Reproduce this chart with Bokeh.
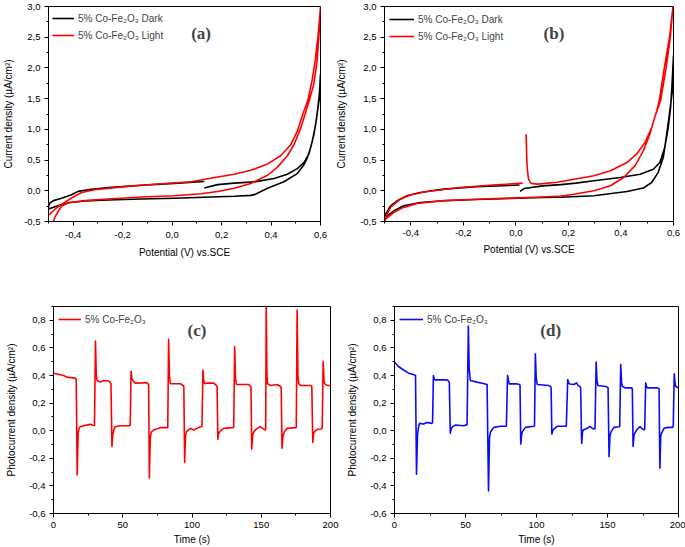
from bokeh.plotting import figure
from bokeh.layouts import column, row
from bokeh.models import FixedTicker, Label, Legend, LegendItem, Range1d
from bokeh.embed import file_html
from bokeh.resources import INLINE

# ---------------- data ----------------
# (a) CV curves
a_dark_v = [0.13, 0.184, 0.251, 0.332, 0.412, 0.466, 0.506, 0.533, 0.553, 0.567, 0.580, 0.589, 0.596, 0.600,
            0.595, 0.584, 0.573, 0.560, 0.547, 0.531, 0.506, 0.452, 0.386, 0.332, 0.318, 0.251, 0.158, 0.009,
            -0.125, -0.259, -0.353, -0.42, -0.46, -0.494, -0.5,
            -0.5, -0.494, -0.48, -0.447, -0.407, -0.38, -0.326, -0.259, -0.125, 0.009, 0.13]
a_dark_j = [0.045, 0.10, 0.125, 0.145, 0.20, 0.27, 0.36, 0.46, 0.60, 0.81, 1.07, 1.34, 1.6, 1.9,
            1.5, 1.18, 0.91, 0.70, 0.54, 0.41, 0.28, 0.147, 0.04, -0.063, -0.075, -0.09, -0.10, -0.122,
            -0.133, -0.149, -0.165, -0.196, -0.24, -0.29, -0.30,
            -0.25, -0.196, -0.16, -0.122, -0.064, -0.01, 0.025, 0.052, 0.089, 0.12, 0.15]
a_light_v = [-0.5, -0.474, -0.447, -0.407, -0.366, -0.313, -0.192, -0.057, 0.077, 0.117, 0.184, 0.251, 0.318,
             0.386, 0.439, 0.480, 0.506, 0.527, 0.550, 0.566, 0.578, 0.592, 0.600,
             0.595, 0.586, 0.572, 0.556, 0.540, 0.520, 0.493, 0.466, 0.426, 0.386, 0.318, 0.251, 0.184, 0.117,
             0.009, -0.125, -0.259, -0.366, -0.42, -0.447, -0.46, -0.474, -0.482]
a_light_j = [-0.40, -0.30, -0.22, -0.117, -0.027, 0.016, 0.068, 0.11, 0.147, 0.175, 0.225, 0.27, 0.333,
             0.437, 0.57, 0.754, 0.967, 1.23, 1.49, 1.8, 2.1, 2.6, 3.0,
             2.6, 2.1, 1.72, 1.49, 1.28, 1.02, 0.754, 0.57, 0.385, 0.253, 0.12, 0.041, -0.011, -0.048,
             -0.08, -0.10, -0.133, -0.165, -0.196, -0.25, -0.33, -0.43, -0.52]

# (b) CV curves
b_dark_v = [0.016, 0.032, 0.102, 0.171, 0.228, 0.297, 0.397, 0.473, 0.523, 0.548, 0.567, 0.580, 0.589, 0.594, 0.600,
            0.595, 0.586, 0.574, 0.561, 0.542, 0.517, 0.485, 0.423, 0.297, 0.171, 0.102, -0.024, -0.15, -0.275,
            -0.364, -0.427, -0.464, -0.49, -0.5,
            -0.496, -0.477, -0.452, -0.414, -0.364, -0.275, -0.15, 0.014]
b_dark_j = [-0.011, 0.038, 0.08, 0.10, 0.125, 0.163, 0.217, 0.27, 0.35, 0.46, 0.71, 1.03, 1.36, 1.7, 2.2,
            1.6, 1.30, 0.92, 0.54, 0.30, 0.135, 0.044, -0.011, -0.082, -0.105, -0.109, -0.125, -0.142, -0.163,
            -0.19, -0.245, -0.326, -0.408, -0.49,
            -0.38, -0.245, -0.163, -0.082, -0.027, 0.027, 0.065, 0.093]
b_light_v = [0.039, 0.041, 0.043, 0.048, 0.058, 0.083, 0.158, 0.297, 0.36, 0.423, 0.46, 0.492, 0.517, 0.536, 0.546,
             0.565, 0.585, 0.598,
             0.588, 0.572, 0.551, 0.529, 0.51, 0.485, 0.454, 0.41, 0.36, 0.297, 0.215, 0.171, 0.102, -0.024,
             -0.15, -0.275, -0.376, -0.427, -0.464, -0.496, -0.5,
             -0.497, -0.477, -0.44, -0.40, -0.338, -0.213, -0.087, 0.026]
b_light_j = [0.92, 0.6, 0.38, 0.19, 0.12, 0.109, 0.14, 0.245, 0.326, 0.46, 0.60, 0.79, 1.03, 1.30, 1.47,
             2.0, 2.5, 3.0,
             2.5, 2.0, 1.47, 1.20, 0.92, 0.65, 0.41, 0.217, 0.082, 0.0, -0.06, -0.085, -0.10, -0.12,
             -0.138, -0.16, -0.207, -0.27, -0.35, -0.46, -0.5,
             -0.44, -0.27, -0.136, -0.065, -0.011, 0.054, 0.093, 0.125]

# (c) photocurrent (red)
c_t = [0, 7.2, 9.6, 15.7, 16.4,
       17.1, 17.8, 18.5, 19.3, 21.7, 26.5, 28.9, 29.6,
       30.3, 30.9, 31.5, 33.7, 36.1, 39.8, 41.0, 41.5,
       42.2, 42.8, 43.6, 44.6, 48.2, 54.2, 55.4,
       56.0, 56.6, 57.3, 59.0, 67.5, 68.2, 68.7,
       69.2, 69.9, 70.6, 72.3, 77.1, 81.9, 82.5,
       83.1, 83.7, 84.4, 91.6, 93.5, 94.1,
       94.7, 95.3, 96.0, 98.8, 101.2, 103.6, 106.0, 107.2,
       107.9, 108.5, 109.2, 110.8, 115.7, 117.6, 118.1,
       118.7, 119.3, 120.2, 122.9, 128.9, 130.1,
       130.8, 131.4, 132.1, 141.0, 142.2, 142.6,
       143.1, 143.8, 144.8, 147.0, 149.4, 151.8, 152.8, 153.2,
       153.6, 154.1, 154.6, 156.6, 161.4, 163.9, 164.4,
       165.0, 165.7, 166.6, 168.7, 174.7, 175.3,
       175.9, 176.5, 177.1, 178.3, 185.5, 186.5,
       187.2, 187.8, 188.6, 190.4, 193.3, 194.0,
       194.7, 195.3, 195.9, 197.6, 200.0]
c_j = [0.417, 0.40, 0.388, 0.381, 0.375,
       -0.32, -0.02, 0.02, 0.029, 0.036, 0.046, 0.038, 0.04,
       0.65, 0.40, 0.364, 0.352, 0.364, 0.36, 0.35, 0.34,
       -0.115, -0.03, 0.01, 0.029, 0.036, 0.036, 0.04,
       0.43, 0.38, 0.364, 0.345, 0.347, 0.34, 0.33,
       -0.343, -0.05, -0.01, 0.005, 0.022, 0.022, 0.025,
       0.663, 0.40, 0.34, 0.34, 0.328, 0.32,
       -0.23, -0.04, -0.007, 0.017, 0.005, 0.017, 0.029, 0.03,
       0.44, 0.36, 0.34, 0.345, 0.345, 0.328, 0.32,
       -0.062, -0.02, -0.005, 0.017, 0.022, 0.025,
       0.608, 0.38, 0.335, 0.335, 0.32, 0.31,
       -0.134, -0.03, -0.005, 0.017, 0.029, 0.012, 0.005, 0.01,
       0.93, 0.40, 0.34, 0.328, 0.335, 0.32, 0.31,
       -0.127, -0.04, -0.01, 0.017, 0.022, 0.025,
       0.874, 0.40, 0.34, 0.328, 0.328, 0.32,
       -0.086, -0.02, -0.005, 0.01, 0.012, 0.02,
       0.503, 0.36, 0.34, 0.328, 0.328]

# (d) photocurrent (blue)
d_t = [0, 2.8, 6.4, 9.9, 13.4, 14.8,
       15.5, 16.2, 16.8, 17.6, 20.5, 22.8, 26.4, 26.8,
       27.4, 28.0, 28.7, 36.9, 38.1, 38.6,
       39.3, 39.9, 40.5, 42.8, 48.7, 51.1,
       52.0, 52.6, 53.4, 58.1, 61.6, 64.0, 65.2,
       66.2, 66.9, 67.6, 69.9, 74.6, 78.1, 78.8,
       79.6, 80.3, 80.9, 86.4, 88.0, 88.4,
       88.9, 89.5, 90.2, 92.2, 98.1, 98.6,
       99.2, 99.8, 100.5, 108.7, 109.9, 110.3,
       110.8, 111.4, 112.2, 114.6, 120.5, 121.0,
       122.0, 122.7, 123.5, 126.4, 128.2, 129.4, 130.6, 131.1,
       131.8, 132.4, 132.9, 135.8, 137.6, 139.3, 140.5, 141.2,
       142.0, 142.6, 143.3, 148.7, 149.9, 150.4,
       151.1, 151.7, 152.4, 154.6, 158.1, 158.6,
       159.3, 159.9, 160.5, 162.8, 167.1, 167.5,
       168.0, 168.7, 169.4, 171.0, 172.9, 174.6, 175.8, 176.2,
       176.9, 177.5, 178.1, 185.2, 186.3,
       186.9, 187.5, 188.2, 189.9, 193.4, 195.8, 196.3,
       197.0, 197.6, 198.1, 200.0]
d_j = [0.497, 0.465, 0.44, 0.417, 0.407, 0.40,
       -0.315, -0.03, 0.02, 0.053, 0.048, 0.06, 0.053, 0.06,
       0.40, 0.375, 0.368, 0.368, 0.359, 0.35,
       -0.019, 0.01, 0.024, 0.041, 0.036, 0.044,
       0.759, 0.45, 0.364, 0.352, 0.344, 0.339, 0.335,
       -0.436, -0.05, -0.01, 0.024, 0.032, 0.032, 0.035,
       0.40, 0.36, 0.339, 0.339, 0.335, 0.33,
       -0.097, -0.03, -0.005, 0.024, 0.032, 0.035,
       0.558, 0.38, 0.335, 0.327, 0.32, 0.31,
       -0.024, 0.0, 0.012, 0.032, 0.032, 0.035,
       0.371, 0.345, 0.339, 0.335, 0.347, 0.327, 0.32, 0.31,
       -0.092, -0.01, 0.005, 0.017, 0.032, 0.017, 0.012, 0.015,
       0.497, 0.36, 0.327, 0.32, 0.315, 0.31,
       -0.189, -0.04, -0.01, 0.024, 0.029, 0.03,
       0.48, 0.35, 0.32, 0.31, 0.31, 0.30,
       -0.114, -0.03, -0.015, 0.012, 0.029, 0.012, 0.007, 0.01,
       0.347, 0.32, 0.31, 0.31, 0.305,
       -0.272, -0.04, -0.015, 0.019, 0.024, 0.024, 0.03,
       0.412, 0.34, 0.32, 0.31]

# ticks
cv_x_ticks = [-0.4, -0.2, 0.0, 0.2, 0.4, 0.6]
cv_x_labels = ["-0,4", "-0,2", "0,0", "0,2", "0,4", "0,6"]
cv_x_minor = [-0.5, -0.3, -0.1, 0.1, 0.3, 0.5]
cv_y_ticks = [-0.5, 0.0, 0.5, 1.0, 1.5, 2.0, 2.5, 3.0]
cv_y_labels = ["-0,5", "0,0", "0,5", "1,0", "1,5", "2,0", "2,5", "3,0"]
cv_y_minor = [-0.25, 0.25, 0.75, 1.25, 1.75, 2.25, 2.75]
pc_x_ticks = [0, 50, 100, 150, 200]
pc_x_labels = ["0", "50", "100", "150", "200"]
pc_x_minor = [25, 75, 125, 175]
pc_y_ticks = [-0.6, -0.4, -0.2, 0.0, 0.2, 0.4, 0.6, 0.8]
pc_y_labels = ["-0,6", "-0,4", "-0,2", "0,0", "0,2", "0,4", "0,6", "0,8"]
pc_y_minor = [-0.5, -0.3, -0.1, 0.1, 0.3, 0.5, 0.7, 0.9]

lbl_dark = "5% Co-Fe\u2082O\u2083 Dark"
lbl_light = "5% Co-Fe\u2082O\u2083 Light"
lbl_pc = "5% Co-Fe\u2082O\u2083"

FONT = "Liberation Sans"
RED = "#ff0000"
BLUE = "#0a0aff"


def make_fig(w, h, xr, yr, bl, br, bt, bb, xt, xl, xm, yt, yl, ym, xtitle, ytitle, ystand, xstand, xlstand):
    p = figure(width=w, height=h, x_range=Range1d(*xr), y_range=Range1d(*yr),
               output_backend="svg", toolbar_location=None,
               min_border_left=bl, min_border_right=br, min_border_top=bt, min_border_bottom=bb)
    p.xgrid.visible = False
    p.ygrid.visible = False
    p.outline_line_color = "black"
    p.outline_line_width = 1
    p.outline_line_alpha = 1
    p.background_fill_color = "white"
    p.border_fill_color = "white"
    p.xaxis.ticker = FixedTicker(ticks=xt, minor_ticks=xm)
    p.yaxis.ticker = FixedTicker(ticks=yt, minor_ticks=ym)
    p.xaxis.major_label_overrides = dict(zip(xt, xl))
    p.yaxis.major_label_overrides = dict(zip(yt, yl))
    p.xaxis.axis_label = xtitle
    p.yaxis.axis_label = ytitle
    for ax in (p.xaxis[0], p.yaxis[0]):
        ax.axis_line_color = "black"
        ax.axis_line_width = 1
        ax.major_tick_line_color = "black"
        ax.minor_tick_line_color = "black"
        ax.major_tick_out = 4
        ax.major_tick_in = 0
        ax.minor_tick_out = 2
        ax.minor_tick_in = 0
        ax.major_label_text_font = FONT
        ax.major_label_text_font_size = "9.5px"
        ax.major_label_text_color = "black"
        ax.axis_label_text_font = FONT
        ax.axis_label_text_font_size = "10px"
        ax.axis_label_text_font_style = "normal"
        ax.axis_label_text_color = "black"
    p.yaxis.major_label_standoff = 4
    p.xaxis.major_label_standoff = xlstand
    p.yaxis.axis_label_standoff = ystand
    p.xaxis.axis_label_standoff = xstand
    return p


def add_legend(p, items, gw, pad):
    leg = Legend(items=items, location="top_left", border_line_alpha=0, background_fill_alpha=0,
                 glyph_width=gw, glyph_height=16, label_height=16, spacing=1, padding=pad, margin=0,
                 label_standoff=4, label_text_font=FONT, label_text_font_size="10px")
    p.add_layout(leg)


def add_tag(p, x, y, txt):
    p.add_layout(Label(x=x, y=y, text=txt, text_font="Liberation Serif", text_font_style="bold",
                       text_font_size="17px", text_align="center", text_baseline="middle"))


# (a)
pa = make_fig(333, 272, (-0.5, 0.6), (-0.5, 3.0), 47, 13, 5, 46,
              cv_x_ticks, cv_x_labels, cv_x_minor, cv_y_ticks, cv_y_labels, cv_y_minor,
              "Potential (V) vs.SCE", "Current density (\u00b5A/cm\u00b2)", 7, 6, 6)
ra1 = pa.line(a_dark_v, a_dark_j, line_color="black", line_width=1.6, line_join="round")
ra2 = pa.line(a_light_v, a_light_j, line_color=RED, line_width=1.6, line_join="round")
add_legend(pa, [LegendItem(label=lbl_dark, renderers=[ra1]), LegendItem(label=lbl_light, renderers=[ra2])], 22, 4)
add_tag(pa, 0.117, 2.56, "(a)")

# (b)
pb = make_fig(352, 272, (-0.5, 0.6), (-0.5, 3.0), 49, 12, 6, 51,
              cv_x_ticks, cv_x_labels, cv_x_minor, cv_y_ticks, cv_y_labels, cv_y_minor,
              "Potential (V) vs.SCE", "Current density (\u00b5A/cm\u00b2)", 10, 5, 4)
rb1 = pb.line(b_dark_v, b_dark_j, line_color="black", line_width=1.6, line_join="round")
rb2 = pb.line(b_light_v, b_light_j, line_color=RED, line_width=1.6, line_join="round")
add_legend(pb, [LegendItem(label=lbl_dark, renderers=[rb1]), LegendItem(label=lbl_light, renderers=[rb2])], 25, 5)
add_tag(pb, 0.145, 2.56, "(b)")

# (c)
pc = make_fig(340, 275, (0, 200), (-0.6, 0.9), 53, 10, 33, 33,
              pc_x_ticks, pc_x_labels, pc_x_minor, pc_y_ticks, pc_y_labels, pc_y_minor,
              "Time (s)", "Photocurrent density (\u00b5A/cm\u00b2)", 9, 3, 4)
rc = pc.line(c_t, c_j, line_color=RED, line_width=1.6, line_join="round")
add_legend(pc, [LegendItem(label=lbl_pc, renderers=[rc])], 23, 5)
add_tag(pc, 103.6, 0.723, "(c)")

# (d)
pd_ = make_fig(345, 275, (0, 200), (-0.6, 0.9), 54, 7, 34, 34,
               pc_x_ticks, pc_x_labels, pc_x_minor, pc_y_ticks, pc_y_labels, pc_y_minor,
               "Time (s)", "Photocurrent density (\u00b5A/cm\u00b2)", 9, 3, 4)
rd = pd_.line(d_t, d_j, line_color=BLUE, line_width=1.6, line_join="round")
add_legend(pd_, [LegendItem(label=lbl_pc, renderers=[rd])], 24, 5)
add_tag(pd_, 110.0, 0.727, "(d)")

layout = column(row(pa, pb), row(pc, pd_),
                styles={"position": "absolute", "left": "0px", "top": "0px"})

open("out.html", "w").write(file_html(layout, INLINE))
